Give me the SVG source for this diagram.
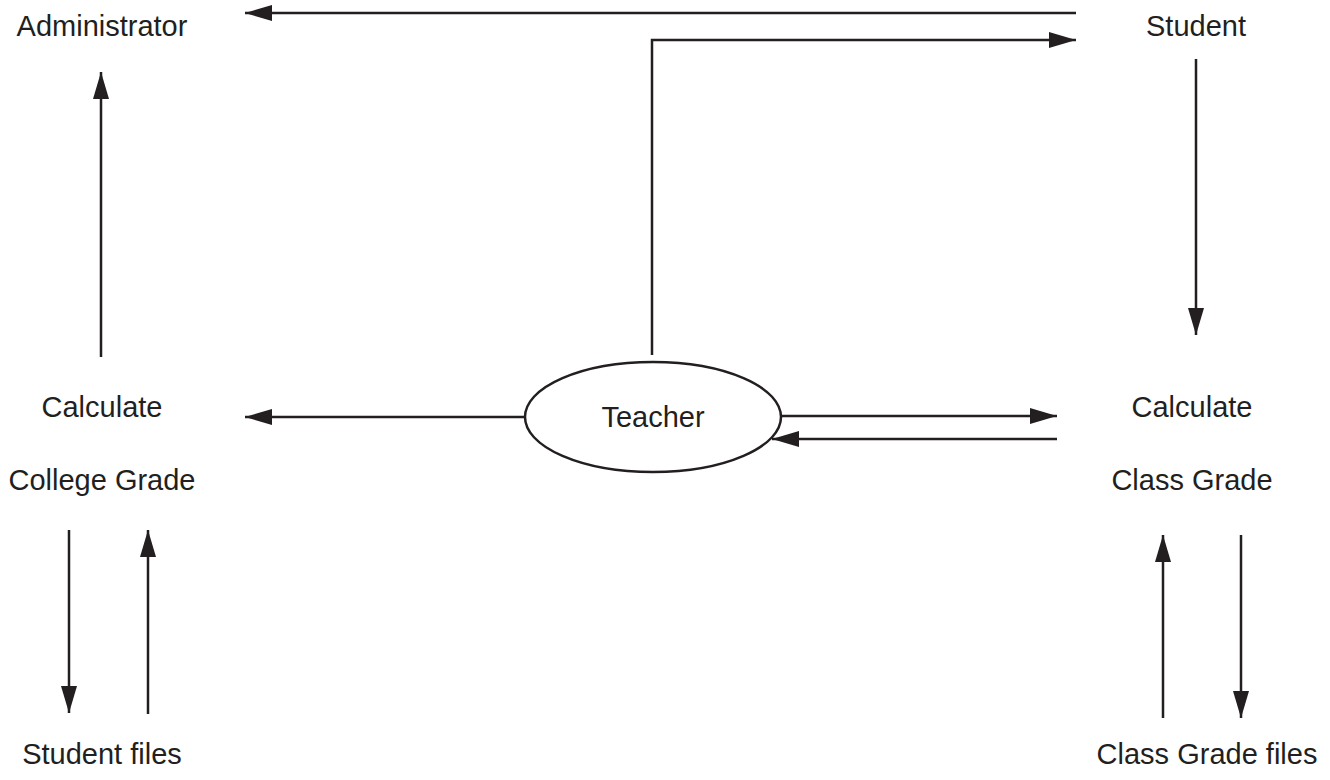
<svg xmlns="http://www.w3.org/2000/svg" width="1330" height="780" viewBox="0 0 1330 780">
<style>
text{font-family:"Liberation Sans",Arial,sans-serif;font-size:29px;fill:#231f20;text-anchor:middle}
.c{stroke:#231f20;stroke-width:2.5;fill:none}
</style>
<defs>
<marker id="ah" markerUnits="userSpaceOnUse" markerWidth="28" markerHeight="18" refX="27" refY="8" orient="auto">
<path d="M0,0 L27,8 L0,16 z" fill="#231f20"/>
</marker>
</defs>
<rect width="1330" height="780" fill="#fff"/>
<g id="administrator"><text x="102" y="36">Administrator</text></g>
<g id="student"><text x="1196" y="36">Student</text></g>
<g id="college"><text x="102" y="417">Calculate</text><text x="102" y="490">College Grade</text></g>
<g id="classgrade"><text x="1192" y="417">Calculate</text><text x="1192" y="490">Class Grade</text></g>
<g id="teacher"><ellipse cx="653" cy="417" rx="128" ry="55" fill="#fff" stroke="#231f20" stroke-width="2.5"/><text x="653" y="427">Teacher</text></g>
<g id="studentfiles"><text x="102" y="764">Student files</text></g>
<g id="classfiles"><text x="1207" y="764">Class Grade files</text></g>
<g id="connectors">
<path class="c" d="M1076,13 H245" marker-end="url(#ah)"/>
<path class="c" d="M652,355 V40 H1076" marker-end="url(#ah)"/>
<path class="c" d="M1196,59 V335" marker-end="url(#ah)"/>
<path class="c" d="M101,357 V72" marker-end="url(#ah)"/>
<path class="c" d="M525,417 H245" marker-end="url(#ah)"/>
<path class="c" d="M781,416 H1057" marker-end="url(#ah)"/>
<path class="c" d="M1057,439 H772" marker-end="url(#ah)"/>
<path class="c" d="M69,530 V713" marker-end="url(#ah)"/>
<path class="c" d="M148,714 V530" marker-end="url(#ah)"/>
<path class="c" d="M1163,718 V535" marker-end="url(#ah)"/>
<path class="c" d="M1241,535 V718" marker-end="url(#ah)"/>
</g>
</svg>
